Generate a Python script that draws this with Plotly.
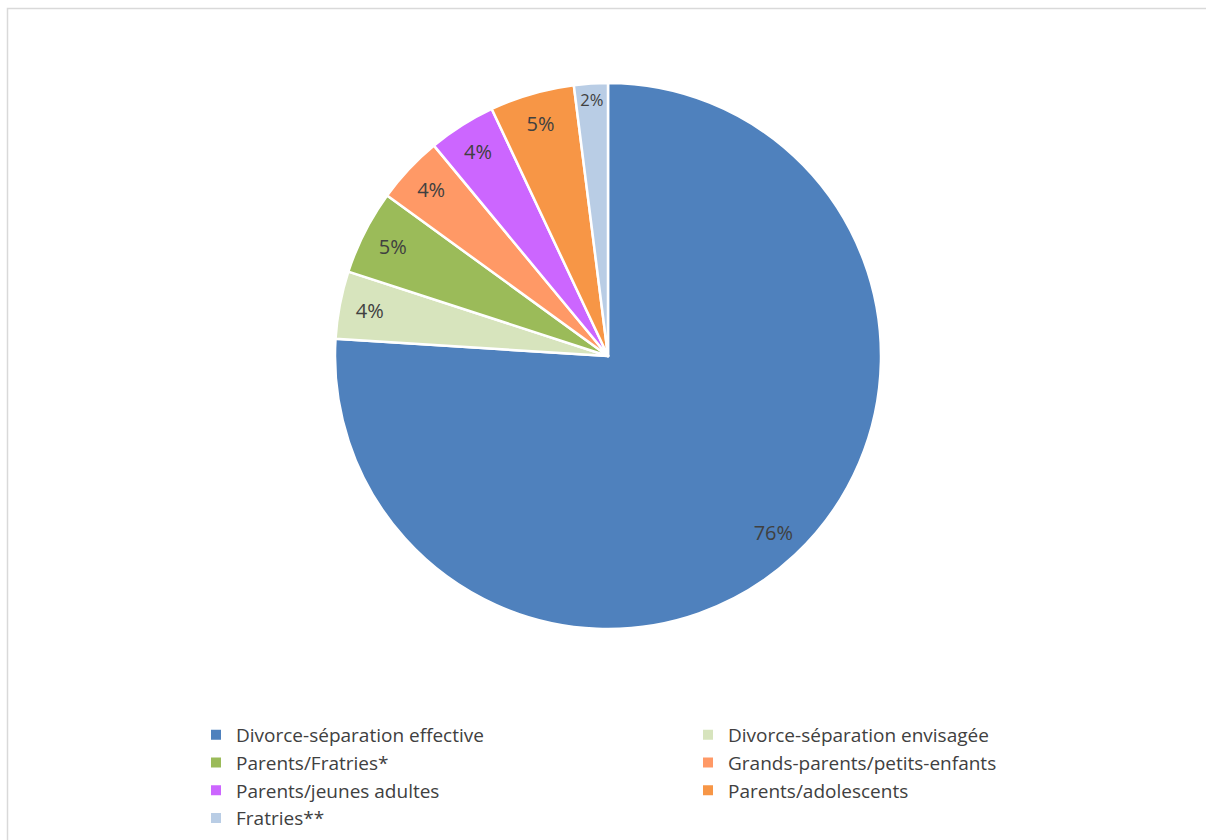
import plotly.graph_objects as go

labels = ["Divorce-séparation effective", "Divorce-séparation envisagée", "Parents/Fratries*",
          "Grands-parents/petits-enfants", "Parents/jeunes adultes", "Parents/adolescents", "Fratries**"]
values = [76, 4, 5, 4, 4, 5, 2]
colors = ["#4F81BD", "#D7E4BD", "#9BBB59", "#FF9966", "#CC66FF", "#F79646", "#B9CDE5"]

W, H = 1206, 840
FONT = "Open Sans, Liberation Sans, sans-serif"
dom = dict(x=[335 / W, 881 / W], y=[1 - 629 / H, 1 - 83 / H])

fig = go.Figure()
# coloured slices (no text)
fig.add_trace(go.Pie(
    labels=labels, values=values, sort=False, direction="clockwise", rotation=0,
    marker=dict(colors=colors, line=dict(color="white", width=2.5)),
    textinfo="none", domain=dom, hoverinfo="label+percent",
))
# transparent ring carrying the percentage labels near the outer edge
fig.add_trace(go.Pie(
    labels=labels, values=values, sort=False, direction="clockwise", rotation=0, hole=0.77,
    marker=dict(colors=["rgba(0,0,0,0)"] * len(values), line=dict(width=0)),
    texttemplate="%{percent:.0%}", textposition="inside", insidetextorientation="horizontal",
    textfont=dict(family=FONT, size=20, color="#404040"),
    domain=dom, showlegend=False, hoverinfo="skip",
))
fig.update_layout(
    width=W, height=H, margin=dict(l=0, r=0, t=0, b=0, autoexpand=False),
    paper_bgcolor="white",
    showlegend=True,
    legend=dict(orientation="h", x=196 / W, y=1 - 716 / H, xanchor="left", yanchor="top",
                entrywidth=447, entrywidthmode="pixels", traceorder="normal",
                font=dict(family=FONT, size=19, color="#404040"),
                itemsizing="constant", tracegroupgap=0),
    shapes=[dict(type="rect", xref="paper", yref="paper", x0=7.5 / W, x1=1.05, y0=-0.05, y1=1 - 8.5 / H,
                 line=dict(color="#D9D9D9", width=1.5), fillcolor="rgba(0,0,0,0)")],
)
fig.write_html("out.html", config={"displayModeBar": False},
               post_script="document.body.style.margin='0';")
